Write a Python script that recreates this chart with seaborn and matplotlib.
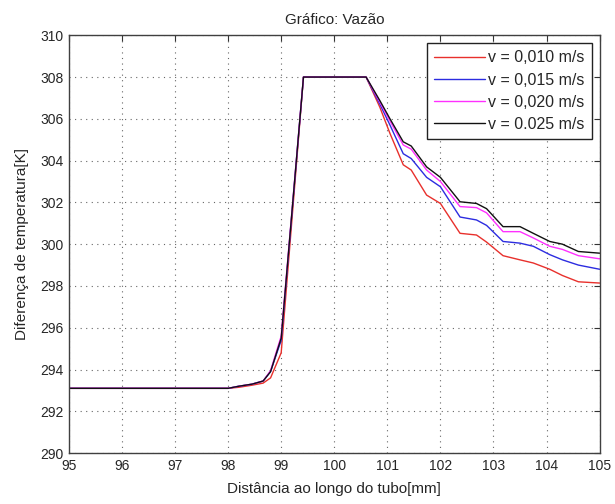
import pandas as pd
import seaborn as sns
import matplotlib.pyplot as plt

# distance along the tube [mm]
dist = [95.0, 98.0, 98.2, 98.45, 98.66, 98.8, 99.0, 99.42, 100.6, 100.86,
        101.05, 101.3, 101.45, 101.74, 102.0, 102.37, 102.68, 102.87, 103.18,
        103.5, 103.75, 104.06, 104.3, 104.6, 105.0]

# temperature [K] for each flow velocity
temp_010 = [293.1, 293.1, 293.15, 293.25, 293.35, 293.6, 294.8, 308, 308, 306.55,
            305.3, 303.8, 303.55, 302.35, 301.95, 300.52, 300.44, 300.1, 299.45,
            299.25, 299.1, 298.8, 298.5, 298.2, 298.14]
temp_015 = [293.1, 293.1, 293.2, 293.3, 293.45, 293.9, 295.4, 308, 308, 306.7,
            305.7, 304.33, 304.1, 303.2, 302.75, 301.3, 301.16, 300.9, 300.13,
            300.05, 299.9, 299.5, 299.25, 299.0, 298.8]
temp_020 = [293.1, 293.1, 293.2, 293.3, 293.45, 293.95, 295.6, 308, 308, 306.8,
            305.9, 304.75, 304.55, 303.55, 303.0, 301.8, 301.75, 301.5, 300.6,
            300.6, 300.3, 299.9, 299.75, 299.45, 299.3]
temp_025 = [293.1, 293.1, 293.2, 293.3, 293.45, 293.9, 295.5, 308, 308, 306.87,
            306.0, 304.9, 304.7, 303.7, 303.2, 302.03, 301.95, 301.7, 300.84,
            300.84, 300.52, 300.13, 300.0, 299.65, 299.57]

labels = ['v = 0,010 m/s', 'v = 0,015 m/s', 'v = 0,020 m/s', 'v = 0.025 m/s']
colors = ['#e8302c', '#2c2ce0', '#ff30ff', '#111111']

frames = []
for lab, temps in zip(labels, [temp_010, temp_015, temp_020, temp_025]):
    frames.append(pd.DataFrame({'dist': dist, 'temp': temps, 'serie': lab}))
df = pd.concat(frames, ignore_index=True)

sns.set_style("white")
plt.rcParams['font.family'] = ['Liberation Sans', 'DejaVu Sans']

fig = plt.figure(figsize=(6.15, 5.04), dpi=100)
ax = fig.add_axes([0.112, 0.101, 0.863, 0.829])

sns.lineplot(data=df, x='dist', y='temp', hue='serie', palette=colors,
             estimator=None, sort=False, linewidth=1.0, ax=ax)

ax.set_xlim(95, 105)
ax.set_ylim(290, 310)
ax.set_xticks(range(95, 106))
ax.set_yticks(range(290, 311, 2))
ax.grid(True, linestyle=(0, (1, 4)), color='#666666', linewidth=0.8)
ax.tick_params(direction='in', top=True, right=True, length=4, width=0.8,
               color='#333333', labelsize=10, pad=4)
for s in ax.spines.values():
    s.set_color('#404040')
    s.set_linewidth(1.0)

ax.set_title('Gráfico: Vazão', fontsize=11, pad=8)
ax.set_xlabel('Distância ao longo do tubo[mm]', fontsize=11, labelpad=7)
ax.set_ylabel('Diferença de temperatura[K]', fontsize=11, labelpad=8)

leg = ax.legend(loc='upper right', fontsize=11.5, frameon=True, fancybox=False,
                edgecolor='#222222', framealpha=1, handlelength=3.2,
                handletextpad=0.2, labelspacing=0.45, borderpad=0.45,
                borderaxespad=0.5)
leg.get_frame().set_linewidth(1.0)

fig.savefig('out.png', dpi=100)
